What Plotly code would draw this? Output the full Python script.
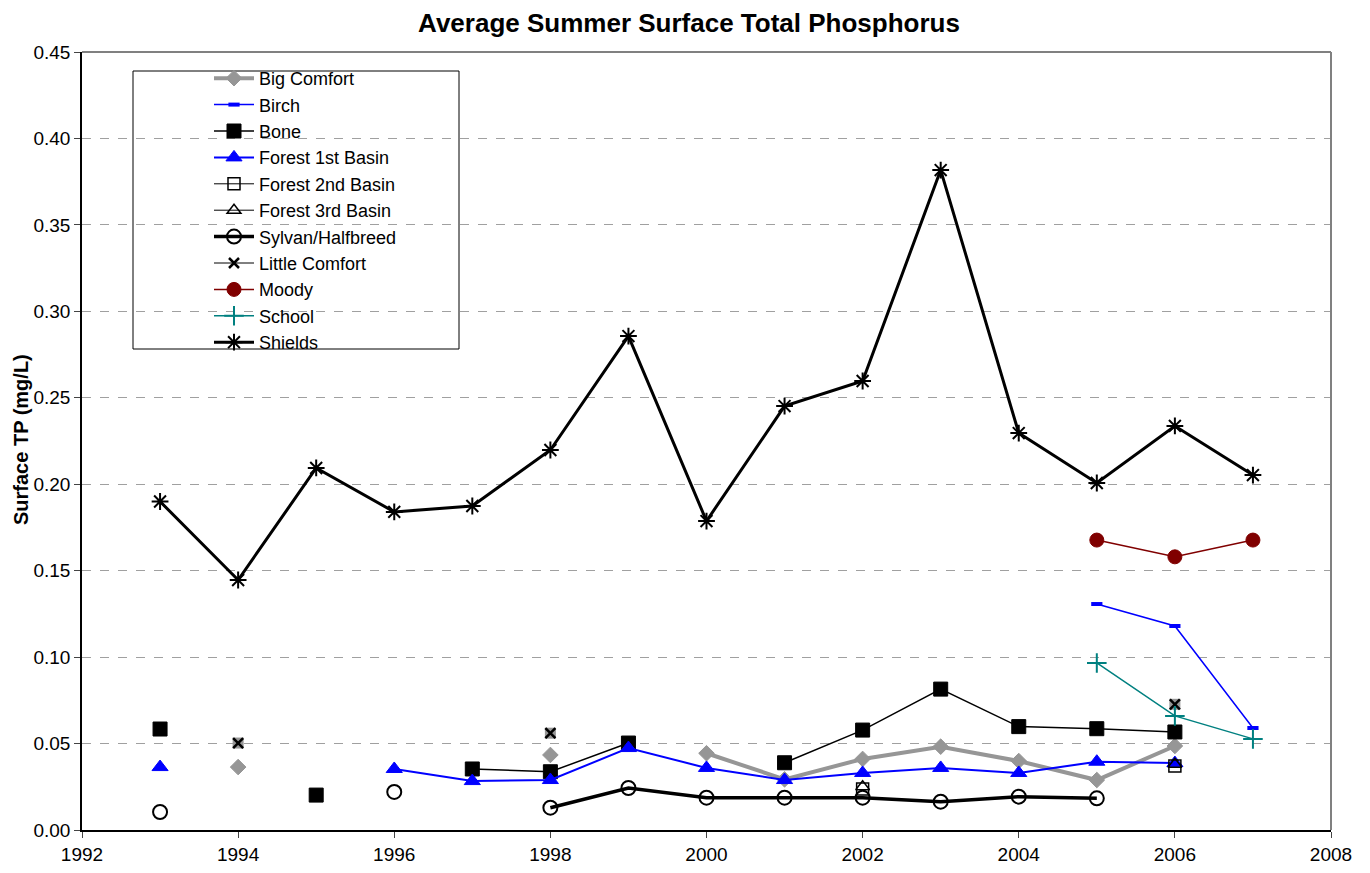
import plotly.graph_objects as go

years = list(range(1993, 2008))

big_comfort = [None, 0.0364, None, None, None, 0.0434, None, 0.0444, 0.0293, 0.0411, 0.0482, 0.0399, 0.0289, 0.0486, None]
birch = [None, None, None, None, None, None, None, None, None, None, None, None, 0.1307, 0.118, 0.059]
bone = [0.0584, None, 0.0202, None, 0.0353, 0.0337, 0.0503, None, 0.0389, 0.0578, 0.0815, 0.0598, 0.0586, 0.0567, None]
forest1 = [0.0364, None, None, 0.0353, 0.0283, 0.0289, 0.0474, 0.0359, 0.0289, 0.0330, 0.0359, 0.0330, 0.0395, 0.0387, None]
forest2 = [None, None, None, None, None, None, None, None, None, 0.0237, None, None, None, 0.0370, None]
forest3 = [None, None, None, None, None, None, None, None, None, 0.0250, None, None, None, 0.0380, None]
sylvan = [0.0104, None, None, 0.0220, None, 0.0129, 0.0243, 0.0187, 0.0187, 0.0187, 0.0164, 0.0193, 0.0183, None, None]
little_comfort = [None, 0.0503, None, None, None, 0.0560, None, None, None, None, None, None, None, 0.0727, None]
moody = [None, None, None, None, None, None, None, None, None, None, None, None, 0.1677, 0.158, 0.1677]
school = [None, None, None, None, None, None, None, None, None, None, None, None, 0.0966, 0.066, 0.0527]
shields = [0.190, 0.1446, 0.2094, 0.184, 0.1874, 0.2198, 0.2857, 0.1787, 0.2452, 0.2597, 0.3817, 0.2296, 0.2007, 0.2337, 0.2053]

x_ticks = list(range(1992, 2009, 2))
y_ticks = [0.0, 0.05, 0.10, 0.15, 0.20, 0.25, 0.30, 0.35, 0.40, 0.45]

# plot area in page pixels (page has 8px body margin)
PL, PR, PT, PB = 82, 1331, 52, 830
PW, PH = PR - PL, PB - PT

fig = go.Figure()

def add(name, y, color, lw, symbol, size, mcolor=None, mline=None, mlw=1, showlegend=True):
    fig.add_trace(go.Scatter(
        x=years, y=y, name=name, mode="lines+markers", connectgaps=False,
        showlegend=showlegend,
        line=dict(color=color, width=lw),
        marker=dict(symbol=symbol, size=size, color=mcolor or color,
                    line=dict(color=mline or color, width=mlw)),
    ))

add("Big Comfort", big_comfort, "#969696", 4, "diamond", 12)
add("Birch", birch, "#0000FF", 1.5, "line-ew", 8, mlw=4)
add("Bone", bone, "#000000", 1.5, "square", 14)
add("Forest 1st Basin", forest1, "#0000FF", 2, "triangle-up", 14)
add("Forest 2nd Basin", forest2, "#000000", 1, "square-open", 12, mlw=1.5)
add("Forest 3rd Basin", forest3, "#000000", 1, "triangle-up-open", 12, mlw=1.5)
add("Sylvan/Halfbreed", sylvan, "#000000", 3.5, "circle-open", 14, mlw=2)
fig.add_trace(go.Scatter(x=years, y=little_comfort, mode="markers", showlegend=False,
                         hoverinfo="skip",
                         marker=dict(symbol="square", size=11, color="#969696",
                                     line=dict(width=0))))
add("Little Comfort", little_comfort, "#000000", 1, "x-thin-open", 10, mlw=2.5)
add("Moody", moody, "#800000", 1.5, "circle", 14)
add("School", school, "#008080", 1.5, "cross-thin-open", 14, mlw=2)
add("Shields", shields, "#000000", 3, "asterisk-open", 14, mlw=2)

# legend box
fig.add_shape(type="rect", xref="paper", yref="paper",
              x0=(133 - PL) / PW, x1=(459 - PL) / PW,
              y0=(PB - 349) / PH, y1=(PB - 71) / PH,
              line=dict(color="#000000", width=1), fillcolor="white", layer="below")

# y-axis title
fig.add_annotation(text="<b>Surface TP (mg/L)</b>", xref="paper", yref="paper",
                   x=(21 - PL) / PW, y=(PB - 440) / PH, textangle=-90,
                   showarrow=False, font=dict(size=20), xanchor="center", yanchor="middle")

fig.update_layout(
    width=1362, height=865,
    paper_bgcolor="white", plot_bgcolor="white",
    margin=dict(l=PL - 8, r=1370 - PR, t=PT - 8, b=873 - PB, pad=0),
    font=dict(family="Liberation Sans, Arial, sans-serif", size=19, color="#000000"),
    title=dict(text="<b>Average Summer Surface Total Phosphorus</b>", x=0.5, xanchor="center",
               y=0.993, yanchor="top", yref="container", pad=dict(t=0, b=0),
               font=dict(size=26)),
    legend=dict(x=(209 - PL) / PW, y=(PB - 60) / PH, xanchor="left", yanchor="top",
                bgcolor="rgba(0,0,0,0)", borderwidth=0, font=dict(size=18),
                tracegroupgap=0, itemwidth=40),
    xaxis=dict(range=[1992, 2008], tickvals=x_ticks, ticks="outside", ticklen=6,
               showgrid=False, showline=True, linecolor="#000000", linewidth=1.5,
               mirror=False, zeroline=False, tickfont=dict(size=19), automargin=False),
    yaxis=dict(range=[0, 0.45], tickvals=y_ticks, tickformat=".2f", ticks="outside", ticklen=6,
               showgrid=True, gridcolor="#A0A0A0", griddash="dash", gridwidth=1,
               showline=True, linecolor="#000000", linewidth=1.5, zeroline=False,
               tickfont=dict(size=19), automargin=False),
)

fig.add_shape(type="line", xref="paper", yref="paper", x0=0, x1=1, y0=1, y1=1,
              line=dict(color="#808080", width=2))
fig.add_shape(type="line", xref="paper", yref="paper", x0=1, x1=1, y0=0, y1=1,
              line=dict(color="#808080", width=2))

fig.write_html("out.html")
